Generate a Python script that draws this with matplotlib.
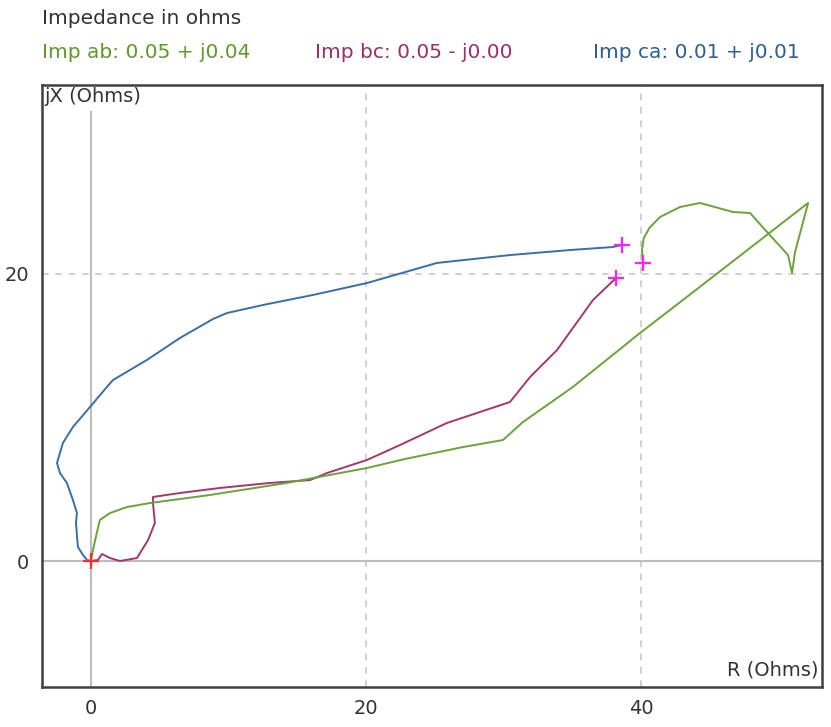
import matplotlib
matplotlib.use("Agg")
import matplotlib.pyplot as plt

# Impedance trajectories (R, jX) in ohms
ca_r = [0.0, -0.29, -0.58, -0.95, -1.09, -1.02, -1.31, -1.75, -2.25, -2.47, -2.04, -1.31, -0.07,
        1.16, 1.6, 4.07, 6.47, 8.87, 9.89, 12.51, 16.15, 20.07, 25.16, 30.47, 34.84, 37.96, 38.62]
ca_x = [0.0, 0.07, 0.42, 0.98, 2.65, 3.34, 4.25, 5.44, 6.13, 6.83, 8.22, 9.34, 10.73,
        12.13, 12.61, 14.01, 15.54, 16.86, 17.28, 17.84, 18.54, 19.37, 20.77, 21.32, 21.67, 21.88, 22.02]

bc_r = [0.0, 0.51, 0.8, 1.38, 2.11, 3.35, 4.15, 4.65, 4.51, 4.51, 6.47, 9.38, 13.02, 15.93,
        17.16, 20.07, 22.47, 25.89, 30.47, 31.93, 33.89, 36.51, 38.18]
bc_x = [0.0, 0.07, 0.49, 0.21, 0.0, 0.21, 1.46, 2.65, 4.04, 4.46, 4.74, 5.09, 5.44, 5.64,
        6.13, 7.04, 8.08, 9.62, 11.08, 12.82, 14.7, 18.19, 19.72]

ab_r = [0.0, 0.15, 0.44, 0.65, 1.38, 2.62, 4.29, 8.65, 14.25, 16.15, 20.07, 22.84, 27.05, 29.96,
        31.42, 35.05, 39.93, 43.05, 52.15, 51.2, 50.98, 50.69, 49.16, 47.93, 46.69, 44.29,
        42.84, 41.38, 40.6, 40.2, 40.07, 40.15]
ab_x = [0.0, 0.77, 2.02, 2.86, 3.34, 3.76, 4.04, 4.6, 5.44, 5.78, 6.48, 7.11, 7.94, 8.43,
        9.69, 12.13, 15.89, 18.19, 24.95, 21.53, 20.07, 21.32, 22.93, 24.25, 24.32, 24.95,
        24.67, 23.97, 23.2, 22.5, 21.67, 20.77]

x_ticks = [0, 20, 40]
y_ticks = [0, 20]

title = "Impedance in ohms"
labels = ["Imp ab: 0.05 + j0.04", "Imp bc: 0.05 - j0.00", "Imp ca: 0.01 + j0.01"]

c_ab = "#6aa33a"
c_bc = "#a3386c"
c_ca = "#3a6ea5"
t_ab = "#5d9a2c"
t_bc = "#9b2f6b"
t_ca = "#2f5f91"

plt.rcParams['font.family'] = ['DejaVu Sans']
FS = 14
FH = 14.5

fig = plt.figure(figsize=(8.31, 7.27), dpi=100)
ax = fig.add_axes([42/831, 40/727, 780/831, 602/727])
ax.set_xlim(-3.56, 53.16)
ax.set_ylim(-8.78, 33.17)

# grid
for gx in [20, 40]:
    ax.axvline(gx, color="#c8c8c8", lw=1.2, ls=(0, (4, 4)), zorder=1)
ax.axhline(20, color="#c8c8c8", lw=1.2, ls=(0, (4, 4)), zorder=1)
ax.axhline(0, color="#bdbdbd", lw=1.5, zorder=1)
ax.plot([0, 0], [-8.78, 31.3], color="#bdbdbd", lw=1.5, zorder=1)

ax.plot(ca_r, ca_x, color=c_ca, lw=1.4, zorder=3)
ax.plot(bc_r, bc_x, color=c_bc, lw=1.4, zorder=3)
ax.plot(ab_r, ab_x, color=c_ab, lw=1.4, zorder=3)

ends_r = [ca_r[-1], bc_r[-1], ab_r[-1]]
ends_x = [ca_x[-1], bc_x[-1], ab_x[-1]]
ax.plot(ends_r, ends_x, ls="none", marker="+", ms=11, mew=1.6, color="#ff22ff", zorder=4)
ax.plot([ab_r[0]], [ab_x[0]], ls="none", marker="+", ms=11, mew=1.6, color="#ff2a2a", zorder=4)

ax.set_xticks(x_ticks)
ax.set_yticks(y_ticks)
ax.tick_params(length=0, labelsize=FS, colors="#333333", pad=9)
for s in ax.spines.values():
    s.set_color("#404040")
    s.set_linewidth(1.8)

ax.text(0.003, 0.997, "jX (Ohms)", transform=ax.transAxes, ha="left", va="top",
        fontsize=FS, color="#333333")
ax.text(0.995, 0.012, "R (Ohms)", transform=ax.transAxes, ha="right", va="bottom",
        fontsize=FS, color="#333333")

fig.text(42/831, 1 - 18/727, title, ha="left", va="center", fontsize=FH, color="#333333")
fig.text(42/831, 1 - 53/727, labels[0], ha="left", va="center", fontsize=FH, color=t_ab)
fig.text(315/831, 1 - 53/727, labels[1], ha="left", va="center", fontsize=FH, color=t_bc)
fig.text(800/831, 1 - 53/727, labels[2], ha="right", va="center", fontsize=FH, color=t_ca)

fig.savefig("out.png", dpi=100)
